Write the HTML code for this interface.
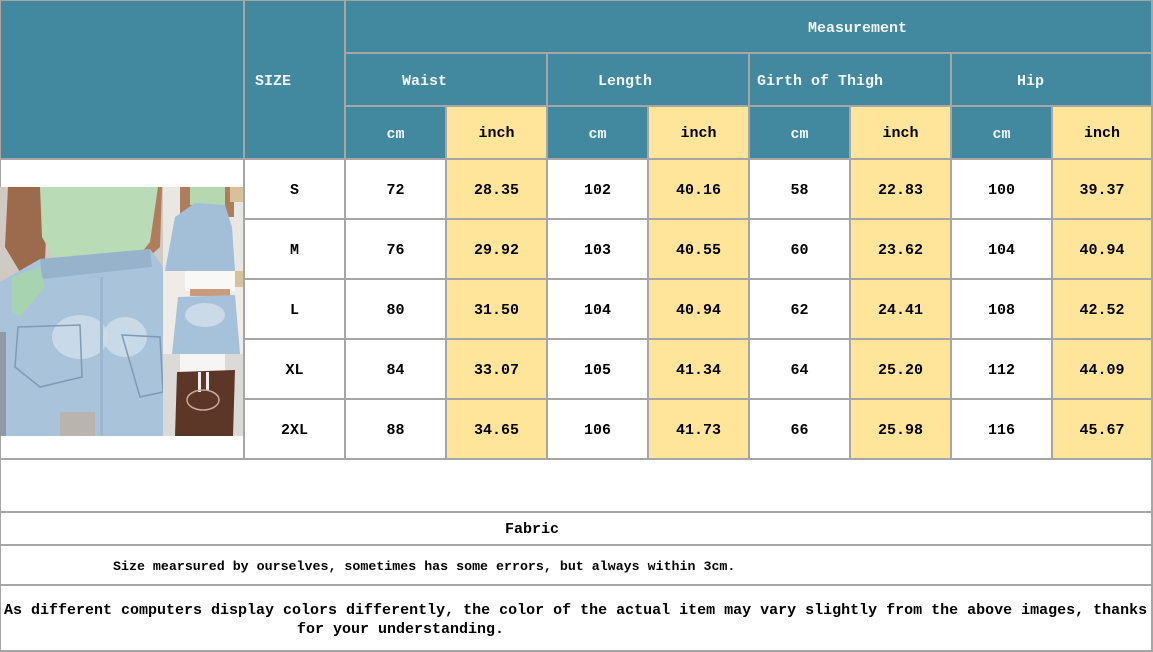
<!DOCTYPE html>
<html>
<head>
<meta charset="utf-8">
<style>
html,body{margin:0;padding:0;}
body{width:1153px;height:652px;position:relative;overflow:hidden;background:#a6a6a6;}
.b{position:absolute;}
.t{background:#42889e;}
.y{background:#ffe599;}
.w{background:#ffffff;}
.x{position:absolute;font-family:"Liberation Mono","DejaVu Sans Mono",monospace;font-weight:bold;font-size:15px;line-height:16px;white-space:pre;color:#000;}
.h{color:#f2f6f7;}
.ctr{text-align:center;}
.k0{left:1px;width:242px}
.k1{left:245px;width:99px}
.k2{left:346px;width:99px}
.k3{left:447px;width:99px}
.k4{left:548px;width:99px}
.k5{left:649px;width:99px}
.k6{left:750px;width:99px}
.k7{left:851px;width:99px}
.k8{left:952px;width:99px}
.k9{left:1053px;width:98px}
.r3{top:160px;height:58px}
.r4{top:220px;height:58px}
.r5{top:280px;height:58px}
.r6{top:340px;height:58px}
.r7{top:400px;height:58px}
</style>
</head>
<body>
<!-- header cells -->
<div class="b t" style="left:1px;top:1px;width:242px;height:157px"></div>
<div class="b t" style="left:245px;top:1px;width:99px;height:157px"></div>
<div class="b t" style="left:346px;top:1px;width:805px;height:51px"></div>
<div class="b t" style="left:346px;top:54px;width:200px;height:51px"></div>
<div class="b t" style="left:548px;top:54px;width:200px;height:51px"></div>
<div class="b t" style="left:750px;top:54px;width:200px;height:51px"></div>
<div class="b t" style="left:952px;top:54px;width:199px;height:51px"></div>
<div class="b t k2" style="top:107px;height:51px"></div>
<div class="b y k3" style="top:107px;height:51px"></div>
<div class="b t k4" style="top:107px;height:51px"></div>
<div class="b y k5" style="top:107px;height:51px"></div>
<div class="b t k6" style="top:107px;height:51px"></div>
<div class="b y k7" style="top:107px;height:51px"></div>
<div class="b t k8" style="top:107px;height:51px"></div>
<div class="b y k9" style="top:107px;height:51px"></div>

<!-- image cell -->
<div class="b w" style="left:1px;top:160px;width:242px;height:298px"></div>
<svg class="b" style="left:0;top:187px" width="243" height="249" viewBox="0 0 243 249">
  <rect x="0" y="0" width="163" height="249" fill="#cfcac4"/>
  <polygon points="8,0 48,0 45,75 20,85 5,60" fill="#9c6a4c"/>
  <polygon points="125,0 162,0 160,60 140,78 128,60" fill="#b07d5c"/>
  <polygon points="40,0 158,0 150,55 130,80 60,82 42,50" fill="#b9dbb6"/>
  <polygon points="0,95 40,72 150,62 163,80 163,249 0,249" fill="#a8c3da"/>
  <polygon points="40,72 150,62 152,80 42,92" fill="#97b3cc"/>
  <rect x="0" y="145" width="6" height="104" fill="#8f9aa4"/>
  <ellipse cx="80" cy="150" rx="28" ry="22" fill="#cfdeea" opacity="0.8"/>
  <ellipse cx="125" cy="150" rx="22" ry="20" fill="#cfdeea" opacity="0.8"/>
  <polygon points="18,140 80,138 82,190 40,200 15,180" fill="none" stroke="#7f9ab3" stroke-width="1.5"/>
  <polygon points="122,148 160,150 163,205 140,210" fill="none" stroke="#7f9ab3" stroke-width="1.5"/>
  <polygon points="12,90 40,80 45,100 20,130 12,125" fill="#a7d3b0"/>
  <rect x="60" y="225" width="35" height="24" fill="#b9b5ae"/>
  <rect x="100" y="90" width="3" height="159" fill="#9cb7cf"/>
  <!-- right top panel -->
  <rect x="163" y="0" width="80" height="84" fill="#e9e7e4"/>
  <rect x="180" y="0" width="12" height="40" fill="#b07d5c"/>
  <rect x="222" y="0" width="12" height="30" fill="#b07d5c"/>
  <rect x="230" y="0" width="13" height="15" fill="#d8c09a"/>
  <rect x="190" y="0" width="35" height="18" fill="#b5d8b0"/>
  <polygon points="165,84 175,30 195,16 225,18 232,40 235,84" fill="#a3bfd8"/>
  <!-- right middle panel -->
  <rect x="163" y="84" width="80" height="83" fill="#efebe6"/>
  <rect x="222" y="84" width="21" height="16" fill="#d8c09a"/>
  <rect x="185" y="84" width="50" height="20" fill="#f8f8f6"/>
  <rect x="190" y="102" width="40" height="7" fill="#c99a7b"/>
  <polygon points="172,167 178,110 235,108 240,167" fill="#a6c1da"/>
  <ellipse cx="205" cy="128" rx="20" ry="12" fill="#d3e0eb" opacity="0.8"/>
  <!-- right bottom panel -->
  <rect x="163" y="167" width="80" height="82" fill="#dcdad7"/>
  <rect x="180" y="167" width="45" height="18" fill="#f5f5f3"/>
  <polygon points="175,249 177,185 235,183 233,249" fill="#5c3727"/>
  <rect x="198" y="185" width="3" height="20" fill="#f0f0ee"/>
  <rect x="206" y="185" width="3" height="18" fill="#f0f0ee"/>
  <ellipse cx="203" cy="213" rx="16" ry="10" fill="none" stroke="#c9a99a" stroke-width="1.5"/>
</svg>

<!-- data rows -->
<div class="b w k1 r3"></div><div class="b w k2 r3"></div><div class="b y k3 r3"></div><div class="b w k4 r3"></div><div class="b y k5 r3"></div><div class="b w k6 r3"></div><div class="b y k7 r3"></div><div class="b w k8 r3"></div><div class="b y k9 r3"></div>
<div class="b w k1 r4"></div><div class="b w k2 r4"></div><div class="b y k3 r4"></div><div class="b w k4 r4"></div><div class="b y k5 r4"></div><div class="b w k6 r4"></div><div class="b y k7 r4"></div><div class="b w k8 r4"></div><div class="b y k9 r4"></div>
<div class="b w k1 r5"></div><div class="b w k2 r5"></div><div class="b y k3 r5"></div><div class="b w k4 r5"></div><div class="b y k5 r5"></div><div class="b w k6 r5"></div><div class="b y k7 r5"></div><div class="b w k8 r5"></div><div class="b y k9 r5"></div>
<div class="b w k1 r6"></div><div class="b w k2 r6"></div><div class="b y k3 r6"></div><div class="b w k4 r6"></div><div class="b y k5 r6"></div><div class="b w k6 r6"></div><div class="b y k7 r6"></div><div class="b w k8 r6"></div><div class="b y k9 r6"></div>
<div class="b w k1 r7"></div><div class="b w k2 r7"></div><div class="b y k3 r7"></div><div class="b w k4 r7"></div><div class="b y k5 r7"></div><div class="b w k6 r7"></div><div class="b y k7 r7"></div><div class="b w k8 r7"></div><div class="b y k9 r7"></div>

<!-- bottom rows -->
<div class="b w" style="left:1px;top:460px;width:1150px;height:51px"></div>
<div class="b w" style="left:1px;top:513px;width:1150px;height:31px"></div>
<div class="b w" style="left:1px;top:546px;width:1150px;height:38px"></div>
<div class="b w" style="left:1px;top:586px;width:1150px;height:64px"></div>

<!-- header text -->
<div class="x h" style="left:808px;top:21px">Measurement</div>
<div class="x h" style="left:255px;top:74px">SIZE</div>
<div class="x h" style="left:402px;top:74px">Waist</div>
<div class="x h" style="left:598px;top:74px">Length</div>
<div class="x h" style="left:757px;top:74px">Girth of Thigh</div>
<div class="x h" style="left:1017px;top:74px">Hip</div>

<div class="x h ctr k2" style="top:127px">cm</div>
<div class="x ctr k3" style="top:126px">inch</div>
<div class="x h ctr k4" style="top:127px">cm</div>
<div class="x ctr k5" style="top:126px">inch</div>
<div class="x h ctr k6" style="top:127px">cm</div>
<div class="x ctr k7" style="top:126px">inch</div>
<div class="x h ctr k8" style="top:127px">cm</div>
<div class="x ctr k9" style="top:126px">inch</div>

<!-- data text -->
<div class="x ctr k1" style="top:183px">S</div><div class="x ctr k2" style="top:183px">72</div><div class="x ctr k3" style="top:183px">28.35</div><div class="x ctr k4" style="top:183px">102</div><div class="x ctr k5" style="top:183px">40.16</div><div class="x ctr k6" style="top:183px">58</div><div class="x ctr k7" style="top:183px">22.83</div><div class="x ctr k8" style="top:183px">100</div><div class="x ctr k9" style="top:183px">39.37</div>
<div class="x ctr k1" style="top:243px">M</div><div class="x ctr k2" style="top:243px">76</div><div class="x ctr k3" style="top:243px">29.92</div><div class="x ctr k4" style="top:243px">103</div><div class="x ctr k5" style="top:243px">40.55</div><div class="x ctr k6" style="top:243px">60</div><div class="x ctr k7" style="top:243px">23.62</div><div class="x ctr k8" style="top:243px">104</div><div class="x ctr k9" style="top:243px">40.94</div>
<div class="x ctr k1" style="top:303px">L</div><div class="x ctr k2" style="top:303px">80</div><div class="x ctr k3" style="top:303px">31.50</div><div class="x ctr k4" style="top:303px">104</div><div class="x ctr k5" style="top:303px">40.94</div><div class="x ctr k6" style="top:303px">62</div><div class="x ctr k7" style="top:303px">24.41</div><div class="x ctr k8" style="top:303px">108</div><div class="x ctr k9" style="top:303px">42.52</div>
<div class="x ctr k1" style="top:363px">XL</div><div class="x ctr k2" style="top:363px">84</div><div class="x ctr k3" style="top:363px">33.07</div><div class="x ctr k4" style="top:363px">105</div><div class="x ctr k5" style="top:363px">41.34</div><div class="x ctr k6" style="top:363px">64</div><div class="x ctr k7" style="top:363px">25.20</div><div class="x ctr k8" style="top:363px">112</div><div class="x ctr k9" style="top:363px">44.09</div>
<div class="x ctr k1" style="top:423px">2XL</div><div class="x ctr k2" style="top:423px">88</div><div class="x ctr k3" style="top:423px">34.65</div><div class="x ctr k4" style="top:423px">106</div><div class="x ctr k5" style="top:423px">41.73</div><div class="x ctr k6" style="top:423px">66</div><div class="x ctr k7" style="top:423px">25.98</div><div class="x ctr k8" style="top:423px">116</div><div class="x ctr k9" style="top:423px">45.67</div>

<!-- bottom text -->
<div class="x" style="left:505px;top:522px">Fabric</div>
<div class="x" style="left:113px;top:559px;font-size:13.3px;line-height:15px">Size mearsured by ourselves, sometimes has some errors, but always within 3cm.</div>
<div class="x" style="left:4px;top:603px">As different computers display colors differently, the color of the actual item may vary slightly from the above images, thanks</div>
<div class="x" style="left:297px;top:622px">for your understanding.</div>
</body>
</html>
